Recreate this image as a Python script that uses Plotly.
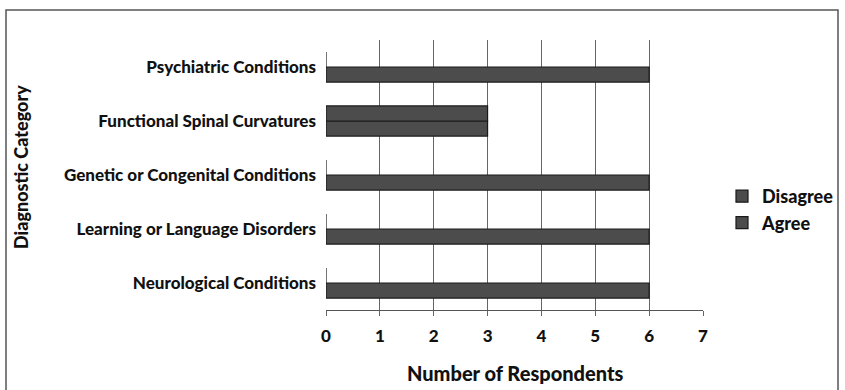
import plotly.graph_objects as go

categories = ["Neurological Conditions", "Learning or Language Disorders",
              "Genetic or Congenital Conditions", "Functional Spinal Curvatures",
              "Psychiatric Conditions"]
agree = [6, 6, 6, 3, 6]
disagree = [0, 0, 0, 3, 0]
x_ticks = [0, 1, 2, 3, 4, 5, 6, 7]

FONT = "Lato"
W, H = 845, 390
L, R, T, B = 326, 142, 40, 80
pw, ph = W - L - R, H - T - B

def px_x(x):
    return (x - L) / pw

def px_y(y):
    return (H - B - y) / ph

fig = go.Figure()
fig.add_trace(go.Bar(y=categories, x=agree, name="Agree", orientation="h", legendgroup="a",
                     marker=dict(color="#4c4c4c", line=dict(color="#1a1a1a", width=1.2))))
fig.add_trace(go.Bar(y=categories, x=disagree, name="Disagree", orientation="h", legendgroup="d",
                     marker=dict(color="#4c4c4c", line=dict(color="#1a1a1a", width=1.2))))

fig.update_layout(
    width=W, height=H,
    margin=dict(l=L, r=R, t=T, b=B, autoexpand=False),
    paper_bgcolor="white", plot_bgcolor="white",
    barmode="group", bargap=0.44, bargroupgap=0,
    font=dict(family=FONT, color="#111", size=14),
    showlegend=True,
    legend=dict(x=px_x(722), y=px_y(178), xanchor="left", yanchor="top",
                traceorder="reversed", tracegroupgap=5,
                font=dict(size=18, family=FONT, weight=900),
                bgcolor="rgba(0,0,0,0)", itemwidth=30),
    xaxis=dict(range=[0, 7], tickvals=x_ticks, showgrid=True, gridcolor="#666",
               gridwidth=1, zeroline=False, showline=True, linecolor="#555", linewidth=1.2,
               ticks="outside", ticklen=5, tickcolor="#666", ticklabelstandoff=5,
               tickfont=dict(size=17, family=FONT, weight=900)),
    yaxis=dict(range=[-0.5, 4.5], showgrid=False, zeroline=False, showline=False,
               ticks="", ticklabelstandoff=9,
               tickfont=dict(size=17, family=FONT, weight=900)),
    annotations=[
        dict(text="Number of Respondents", x=0.5, y=px_y(373), xref="paper", yref="paper",
             xanchor="center", yanchor="middle",
             showarrow=False, font=dict(size=20, family=FONT, weight=900)),
        dict(text="Diagnostic Category", x=px_x(21), y=px_y(167), xref="paper", yref="paper",
             xanchor="center", yanchor="middle",
             showarrow=False, textangle=-90, font=dict(size=18, family=FONT, weight=900)),
    ],
    shapes=[
        dict(type="rect", xref="paper", yref="paper",
             x0=px_x(6), x1=px_x(838), y0=px_y(400), y1=px_y(10),
             line=dict(color="#555", width=1.5), fillcolor="rgba(0,0,0,0)", layer="below"),
    ],
)

fig.write_html("out.html", config={"displayModeBar": False},
               post_script="document.body.style.margin='0';")
